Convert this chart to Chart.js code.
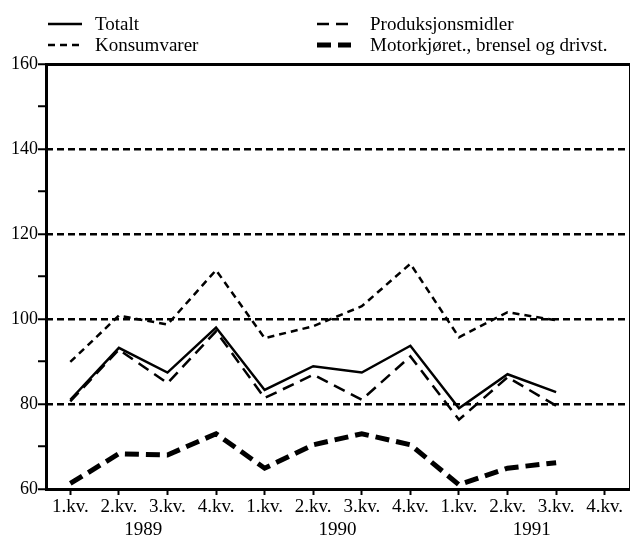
<!DOCTYPE html>
<html>
<head>
<meta charset="utf-8">
<script src="https://cdn.jsdelivr.net/npm/chart.js@4"></script>
<style>
  html, body { margin: 0; padding: 0; background: #fff; }
  #wrap { width: 631px; height: 536px; }
</style>
</head>
<body>
<div id="wrap"><canvas id="chart" width="631" height="536"></canvas></div>
<script>
const years = ["1989", "1990", "1991"];
const quarters = ["1.kv.", "2.kv.", "3.kv.", "4.kv."];
const totalt = [81.0, 93.2, 87.4, 98.0, 83.3, 88.9, 87.4, 93.7, 79.0, 87.0, 82.8];
const produksjon = [80.6, 92.8, 84.9, 97.1, 81.4, 86.9, 81.0, 91.2, 76.3, 86.3, 79.6];
const konsum = [89.9, 100.8, 98.7, 111.5, 95.5, 98.3, 103.0, 113.0, 95.7, 101.6, 99.7];
const motor = [61.3, 68.3, 68.0, 73.0, 64.9, 70.4, 73.0, 70.4, 61.0, 64.9, 66.2];
const yTicks = [60, 80, 100, 120, 140, 160];

const labels = years.flatMap(() => quarters);
const font = "Liberation Serif";

// legend drawn in the top padding, two columns
const legendPlugin = {
  id: "legend2col",
  afterDraw(chart) {
    const ctx = chart.ctx;
    chart.data.datasets.forEach((ds, i) => {
      const col = i % 2, row = Math.floor(i / 2);
      const x0 = col === 0 ? 48 : 317;
      const y = 24 + row * 21;
      ctx.save();
      ctx.strokeStyle = "#000";
      ctx.lineWidth = ds.borderWidth;
      ctx.setLineDash(ds.borderDash || []);
      ctx.beginPath();
      ctx.moveTo(x0, y);
      ctx.lineTo(x0 + 34, y);
      ctx.stroke();
      ctx.setLineDash([]);
      ctx.fillStyle = "#000";
      ctx.font = "19px '" + font + "'";
      ctx.textBaseline = "middle";
      ctx.fillText(ds.label, x0 + (col === 0 ? 47 : 53), y + 1);
      ctx.restore();
    });
  }
};

new Chart(document.getElementById("chart"), {
  type: "line",
  data: {
    labels: labels,
    datasets: [
      { label: "Totalt", data: totalt, borderColor: "#000", borderWidth: 2.5, borderDash: [] },
      { label: "Produksjonsmidler", data: produksjon, borderColor: "#000", borderWidth: 2.5, borderDash: [12, 7] },
      { label: "Konsumvarer", data: konsum, borderColor: "#000", borderWidth: 2.5, borderDash: [7, 5] },
      { label: "Motorkjøret., brensel og drivst.", data: motor, borderColor: "#000", borderWidth: 5, borderDash: [14, 7] }
    ]
  },
  options: {
    responsive: false,
    animation: false,
    layout: { padding: { top: 64, right: 2, left: 0, bottom: 0 } },
    elements: { point: { radius: 0 }, line: { tension: 0, fill: false } },
    plugins: { legend: { display: false }, tooltip: { enabled: false } },
    scales: {
      x: {
        type: "category",
        offset: true,
        weight: 0,
        border: { display: true, color: "#000", width: 3 },
        grid: { drawOnChartArea: false, drawTicks: true, tickLength: 6, tickColor: "#000", tickWidth: 2 },
        ticks: { color: "#000", font: { family: font, size: 19 }, padding: 1, maxRotation: 0, autoSkip: false },
        afterFit(s) { s.height = 24; }
      },
      year: {
        type: "linear",
        position: "bottom",
        weight: 1,
        min: -0.5,
        max: labels.length - 0.5,
        border: { display: false },
        grid: { display: false },
        afterBuildTicks(s) { s.ticks = years.map((y, i) => ({ value: i * 4 + 1.5 })); },
        ticks: {
          color: "#000", font: { family: font, size: 19 }, padding: -2, maxRotation: 0, autoSkip: false,
          callback: (v) => years[Math.round((v - 1.5) / 4)]
        },
        afterFit(s) { s.height = 23; }
      },
      top: {
        type: "category",
        position: "top",
        border: { display: true, color: "#000", width: 3 },
        grid: { display: false },
        ticks: { display: false },
        afterFit(s) { s.height = 0; }
      },
      y: {
        min: 60,
        max: 160,
        weight: 1,
        border: { display: false, dash: [7, 4] },
        grid: {
          drawTicks: true,
          tickLength: 8,
          tickColor: "#000",
          tickWidth: 2,
          tickBorderDash: [],
          lineWidth: 2.5,
          color: (c) => (c.tick && c.tick.value > 60 && c.tick.value < 160 && c.tick.value % 20 === 0) ? "#000" : "rgba(0,0,0,0)"
        },
        ticks: {
          stepSize: 10,
          color: "#000",
          padding: 0,
          font: { family: font, size: 18 },
          callback: (v) => yTicks.includes(v) ? String(v) : ""
        },
        afterFit(s) { s.width = 46; }
      },
      left: {
        position: "left",
        weight: 0,
        min: 60,
        max: 160,
        border: { display: true, color: "#000", width: 3 },
        grid: { display: false },
        ticks: { display: false },
        afterFit(s) { s.width = 0; }
      },
      right: {
        position: "right",
        min: 60,
        max: 160,
        border: { display: true, color: "#000", width: 1 },
        grid: { display: false },
        ticks: { display: false },
        afterFit(s) { s.width = 0; }
      }
    }
  },
  plugins: [legendPlugin]
});
</script>
</body>
</html>
